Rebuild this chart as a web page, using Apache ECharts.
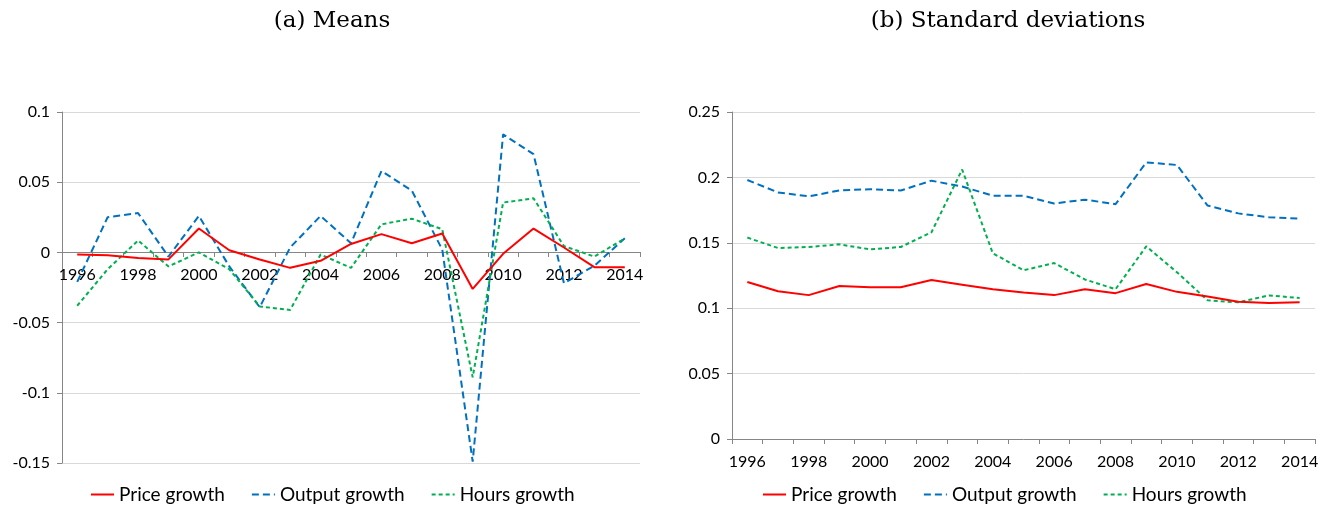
<!DOCTYPE html>
<html>
<head>
<meta charset="utf-8">
<script src="https://cdn.jsdelivr.net/npm/echarts@6/dist/echarts.min.js"></script>
<style>
  html, body { margin: 0; padding: 0; background: #fff; }
  #chart { width: 1337px; height: 508px; }
</style>
</head>
<body>
<div id="chart"></div>
<script>
// years on both x axes
const years = ["1996", "1997", "1998", "1999", "2000", "2001", "2002", "2003", "2004", "2005",
  "2006", "2007", "2008", "2009", "2010", "2011", "2012", "2013", "2014"];

// (a) means
const meanPrice = [-0.0015, -0.002, -0.004, -0.005, 0.017, 0.0015, -0.005, -0.011, -0.006, 0.006,
  0.013, 0.0065, 0.0135, -0.026, -0.001, 0.017, 0.0035, -0.0105, -0.0105];
const meanOutput = [-0.021, 0.025, 0.028, -0.003, 0.026, -0.01, -0.039, 0.0035, 0.026, 0.0065,
  0.058, 0.044, 0.002, -0.149, 0.084, 0.07, -0.022, -0.0095, 0.01];
const meanHours = [-0.038, -0.012, 0.0085, -0.01, 0, -0.012, -0.0385, -0.041, -0.0015, -0.011,
  0.02, 0.024, 0.0165, -0.089, 0.0355, 0.0385, 0.0045, -0.003, 0.01];

// (b) standard deviations
const sdPrice = [0.120, 0.113, 0.110, 0.117, 0.116, 0.116, 0.1215, 0.118, 0.1145, 0.112,
  0.110, 0.1145, 0.1115, 0.1185, 0.1125, 0.109, 0.105, 0.104, 0.1045];
const sdOutput = [0.198, 0.1885, 0.1855, 0.190, 0.191, 0.190, 0.1975, 0.193, 0.186, 0.186,
  0.180, 0.183, 0.1795, 0.2115, 0.2095, 0.1785, 0.1725, 0.1695, 0.1685];
const sdHours = [0.154, 0.146, 0.1468, 0.1488, 0.145, 0.1468, 0.158, 0.206, 0.142, 0.129,
  0.1345, 0.122, 0.1145, 0.1473, 0.1275, 0.106, 0.1045, 0.1098, 0.1078];

const seriesNames = ["Price growth", "Output growth", "Hours growth"];

const font = "Lato";
const styles = [
  { color: "#ff0000", width: 2, type: "solid" },
  { color: "#0070c0", width: 2, type: [7, 4] },
  { color: "#00b050", width: 2, type: [4, 3] }
];

const chart = echarts.init(document.getElementById("chart"));

// onZero does not kick in here, so the means axis is lifted to y = 0 by hand
function xAxis(gridIndex, offset) {
  return {
    type: "category",
    gridIndex: gridIndex,
    data: years,
    boundaryGap: true,
    offset: offset,
    axisLine: { show: true, onZero: false, lineStyle: { color: "#868686", width: 1 } },
    axisTick: { show: true, length: 5, interval: 0, lineStyle: { color: "#868686" } },
    axisLabel: { interval: 1, color: "#000", fontFamily: font, fontSize: 16, margin: 15 },
    splitLine: { show: false }
  };
}

function yAxis(gridIndex, min, max) {
  return {
    type: "value",
    gridIndex: gridIndex,
    min: min,
    max: max,
    interval: 0.05,
    axisLine: { show: true, lineStyle: { color: "#868686", width: 1 } },
    axisTick: { show: true, length: 5, lineStyle: { color: "#868686" } },
    axisLabel: { color: "#000", fontFamily: font, fontSize: 16, margin: 12 },
    splitLine: { lineStyle: { color: "#d9d9d9", width: 1 } }
  };
}

function makeSeries(data, i, axisIndex) {
  return {
    name: seriesNames[i],
    type: "line",
    xAxisIndex: axisIndex,
    yAxisIndex: axisIndex,
    data: data,
    symbol: "none",
    lineStyle: styles[i],
    itemStyle: { color: styles[i].color },
    z: i === 0 ? 4 : 3
  };
}

function legend(left) {
  return {
    left: left,
    top: 480,
    data: seriesNames,
    itemWidth: 23,
    itemHeight: 10,
    itemGap: 26,
    itemStyle: { color: "rgba(0,0,0,0)", borderWidth: 0, opacity: 0 },
    textStyle: { fontFamily: font, fontSize: 19, color: "#000" }
  };
}

const titleStyle = { fontFamily: "DejaVu Serif", fontSize: 23, fontWeight: "normal", color: "#000" };

chart.setOption({
  animation: false,
  title: [
    { text: "(a) Means", left: 327, top: 5, textAlign: "center", textStyle: titleStyle },
    { text: "(b) Standard deviations", left: 1003, top: 5, textAlign: "center", textStyle: titleStyle }
  ],
  legend: [legend(85), legend(757)],
  grid: [
    { left: 62, right: 697, top: 112, bottom: 45 },
    { left: 732, right: 22, top: 112, bottom: 69 }
  ],
  xAxis: [xAxis(0, -211), xAxis(1, 0)],
  yAxis: [yAxis(0, -0.15, 0.1), yAxis(1, 0, 0.25)],
  series: [
    makeSeries(meanPrice, 0, 0),
    makeSeries(meanOutput, 1, 0),
    makeSeries(meanHours, 2, 0),
    makeSeries(sdPrice, 0, 1),
    makeSeries(sdOutput, 1, 1),
    makeSeries(sdHours, 2, 1)
  ]
});
</script>
</body>
</html>
